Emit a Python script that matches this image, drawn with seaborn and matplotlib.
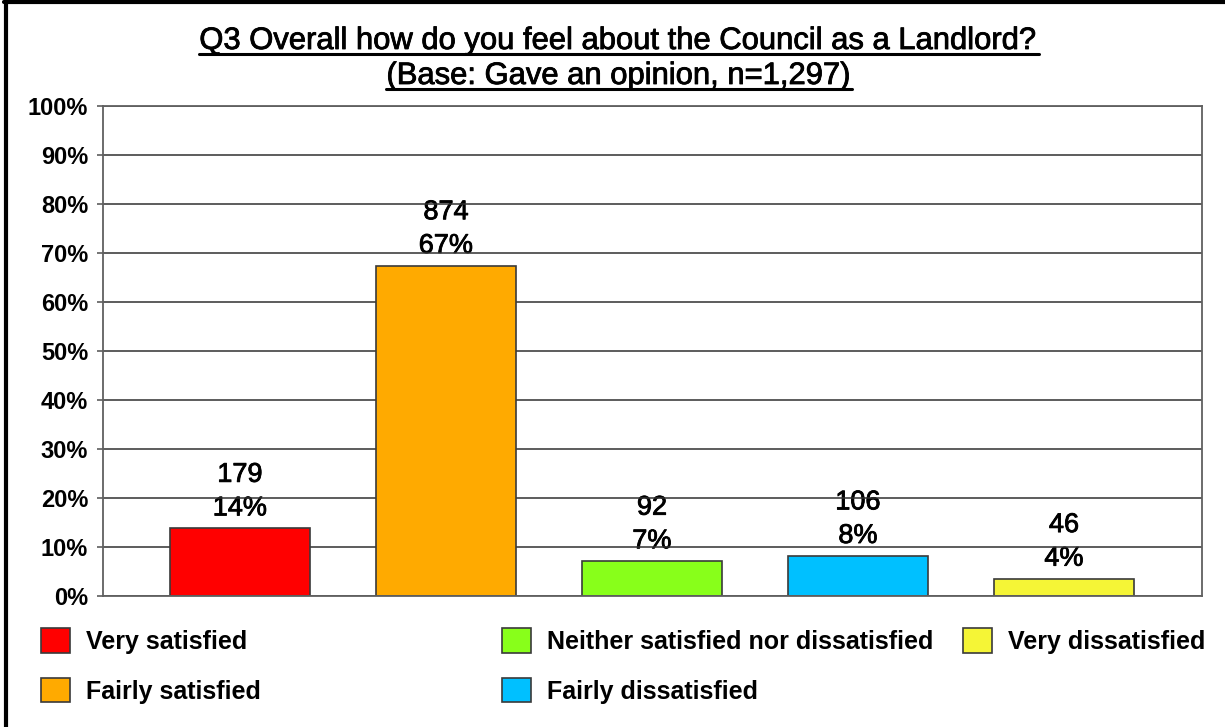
import numpy as np
import pandas as pd
import matplotlib
matplotlib.use("Agg")
import matplotlib.pyplot as plt
import matplotlib.patheffects as pe
from matplotlib.lines import Line2D
from matplotlib.patches import Patch
import seaborn as sns

# Survey responses
categories = ["Very satisfied", "Fairly satisfied", "Neither satisfied nor dissatisfied",
              "Fairly dissatisfied", "Very dissatisfied"]
counts = [179, 874, 92, 106, 46]
base_n = 1297
colors = ["#FF0000", "#FFAA00", "#88FF1A", "#00C0FF", "#F5F536"]
y_ticks = [0, 10, 20, 30, 40, 50, 60, 70, 80, 90, 100]
title_lines = ["Q3 Overall how do you feel about the Council as a Landlord?",
               "(Base: Gave an opinion, n=1,297)"]

pct = [c / base_n * 100 for c in counts]
df = pd.DataFrame({"category": categories, "pct": pct, "count": counts})

sns.set_theme(style="white")
plt.rcParams["font.family"] = ["Liberation Sans", "DejaVu Sans"]
plt.rcParams["text.color"] = "black"

heavier = [pe.withStroke(linewidth=0.6, foreground="black")]

W, H = 1225, 727
fig = plt.figure(figsize=(W / 100, H / 100), dpi=100)
fig.patch.set_facecolor("white")
ax = fig.add_axes([103 / W, (H - 596) / H, 1099 / W, 490 / H])

sns.barplot(data=df, x="category", y="pct", hue="category", palette=colors,
            order=categories, hue_order=categories, width=0.675, saturation=1,
            edgecolor="#3a3a3a", linewidth=1.2, legend=False, ax=ax, zorder=2)

ax.set_xlim(-0.665, 4.67)
ax.set_ylim(0, 100)
ax.set_yticks(y_ticks)
ax.set_yticklabels([f"{t}%" for t in y_ticks], fontsize=17, fontweight="bold")
ax.set_xticks([])
ax.set_xlabel("")
ax.set_ylabel("")
ax.set_axisbelow(True)
ax.yaxis.grid(True, color="#303030", linewidth=1.1)
ax.xaxis.grid(False)
ax.tick_params(axis="y", which="both", left=True, length=4.3, width=1.1,
               color="#505050", pad=6.5, labelcolor="black")
for s in ax.spines.values():
    s.set_color("#606060")
    s.set_linewidth(1.3)
    s.set_visible(True)

# Count and percentage above each bar
for i, (c, p) in enumerate(zip(counts, pct)):
    ax.annotate(f"{c}\n{p:.0f}%", xy=(i, p), xytext=(0, 5), textcoords="offset points",
                ha="center", va="bottom", fontsize=19.5, linespacing=1.38,
                color="black", zorder=0.4, path_effects=heavier)

# Underlined two-line title
title_base = [49, 84]
title_texts = []
for line, yb in zip(title_lines, title_base):
    t = fig.text(619 / W, 1 - yb / H, line, ha="center", va="baseline",
                 fontsize=22.3, color="black", path_effects=heavier)
    title_texts.append((t, yb))
fig.canvas.draw()
renderer = fig.canvas.get_renderer()
for t, yb in title_texts:
    bb = t.get_window_extent(renderer)
    yline = 1 - (yb + 4.5) / H
    fig.add_artist(Line2D([bb.x0 / W, bb.x1 / W], [yline, yline],
                          color="black", linewidth=2.2))

# Legend in three columns
handles = [Patch(facecolor=col, edgecolor="#3a3a3a", linewidth=1.2) for col in colors]
groups = [([0, 1], 41), ([2, 3], 502), ([4], 963)]
for idx, x0 in groups:
    fig.legend([handles[k] for k in idx], [categories[k] for k in idx],
               loc="upper left", bbox_to_anchor=(x0 / W, 1 - 628 / H),
               frameon=False, borderpad=0, borderaxespad=0,
               handlelength=1.15, handleheight=1.15, handletextpad=0.65,
               labelspacing=0.95, labelcolor="black",
               prop={"size": 18, "weight": "bold", "family": "Liberation Sans"})

# Frame along the top and left edges
fig.add_artist(Line2D([5.5 / W, 5.5 / W], [0, 1 - 1 / H], color="black", linewidth=3))
fig.add_artist(Line2D([4 / W, 1], [1 - 2 / H, 1 - 2 / H], color="black", linewidth=3))

fig.savefig("out.png", dpi=100, facecolor="white")
